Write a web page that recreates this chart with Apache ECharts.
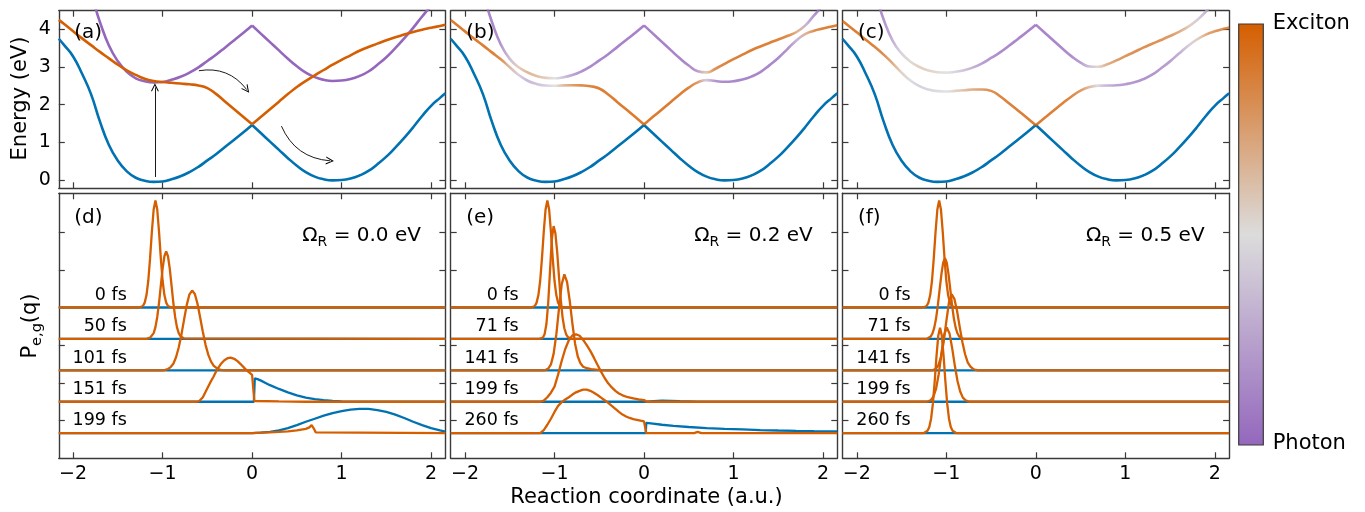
<!DOCTYPE html>
<html><head><meta charset="utf-8">
<script src="https://cdn.jsdelivr.net/npm/echarts@6/dist/echarts.min.js"></script>
<style>html,body{margin:0;padding:0;background:#fff}#c{width:1365px;height:512px}</style>
</head><body><div id="c"></div>
<script>
// ---------------- data ----------------
const xGrid = [-2.16,-2.1,-2.0,-1.9,-1.8,-1.7,-1.6,-1.5,-1.4,-1.3,-1.2,-1.1,-1.0,-0.9,-0.8,-0.7,-0.6,-0.5,-0.4,-0.3,-0.2,-0.1,0,0.1,0.2,0.3,0.4,0.5,0.6,0.7,0.8,0.9,1.0,1.1,1.2,1.3,1.4,1.5,1.6,1.7,1.8,1.9,2.0,2.1,2.16];
const groundE = [3.75,3.58,3.28,2.82,2.28,1.55,0.93,0.51,0.23,0.06,-0.02,-0.05,-0.04,0.02,0.10,0.21,0.35,0.52,0.69,0.88,1.07,1.26,1.46,1.24,1.02,0.80,0.58,0.38,0.21,0.09,0.02,-0.01,0.00,0.04,0.12,0.24,0.42,0.62,0.86,1.12,1.40,1.70,1.97,2.18,2.30];
const photonE = [6.39,6.22,5.92,5.46,4.92,4.19,3.57,3.15,2.87,2.70,2.62,2.59,2.60,2.66,2.74,2.85,2.99,3.16,3.33,3.52,3.71,3.90,4.10,3.88,3.66,3.44,3.22,3.02,2.85,2.73,2.66,2.63,2.64,2.68,2.76,2.88,3.06,3.26,3.50,3.76,4.04,4.34,4.61,4.82,4.94];
const excitonE = [4.25,4.14,3.95,3.76,3.58,3.40,3.23,3.06,2.91,2.79,2.69,2.63,2.60,2.58,2.56,2.54,2.51,2.44,2.28,2.08,1.88,1.68,1.48,1.68,1.88,2.08,2.28,2.47,2.63,2.78,2.92,3.06,3.19,3.31,3.43,3.53,3.62,3.71,3.79,3.86,3.93,3.99,4.04,4.09,4.12];

// Omega_R = 0.2 eV polaritons
const upperB = [6.395,6.225,5.925,5.476,4.927,4.202,3.597,3.215,2.992,2.855,2.761,2.712,2.700,2.728,2.785,2.879,3.010,3.174,3.339,3.527,3.715,3.905,4.104,3.885,3.666,3.447,3.231,3.038,2.889,2.858,2.954,3.082,3.208,3.326,3.445,3.545,3.637,3.731,3.821,3.922,4.099,4.367,4.627,4.833,4.952];
const lowerB = [4.245,4.135,3.945,3.754,3.573,3.388,3.203,2.995,2.788,2.635,2.549,2.508,2.500,2.512,2.515,2.511,2.490,2.430,2.271,2.073,1.875,1.676,1.476,1.676,1.874,2.073,2.270,2.452,2.591,2.652,2.626,2.608,2.622,2.665,2.745,2.865,3.043,3.239,3.469,3.698,3.871,3.964,4.023,4.077,4.108];
const upperBExciton = [0.002,0.002,0.003,0.003,0.006,0.015,0.069,0.295,0.598,0.705,0.665,0.598,0.500,0.314,0.166,0.080,0.038,0.019,0.009,0.005,0.003,0.002,0.001,0.002,0.003,0.005,0.011,0.030,0.130,0.621,0.896,0.953,0.970,0.977,0.979,0.978,0.971,0.957,0.912,0.724,0.259,0.066,0.028,0.018,0.014];
const lowerBExciton = [0.998,0.998,0.997,0.997,0.994,0.985,0.931,0.705,0.402,0.295,0.335,0.402,0.500,0.686,0.834,0.920,0.962,0.981,0.991,0.995,0.997,0.998,0.999,0.998,0.997,0.995,0.989,0.970,0.870,0.379,0.104,0.047,0.030,0.023,0.021,0.022,0.029,0.043,0.088,0.276,0.741,0.934,0.972,0.982,0.986];

// Omega_R = 0.5 eV polaritons
const upperC = [6.419,6.250,5.951,5.506,4.965,4.262,3.702,3.359,3.141,2.999,2.907,2.861,2.850,2.873,2.916,2.989,3.097,3.239,3.387,3.562,3.744,3.928,4.124,3.908,3.694,3.485,3.282,3.117,3.013,3.006,3.072,3.175,3.287,3.397,3.513,3.615,3.715,3.821,3.934,4.065,4.241,4.470,4.704,4.897,5.010];
const lowerC = [4.221,4.110,3.919,3.724,3.535,3.328,3.098,2.851,2.639,2.491,2.403,2.359,2.350,2.367,2.384,2.401,2.403,2.366,2.224,2.038,1.846,1.652,1.456,1.652,1.846,2.036,2.218,2.373,2.467,2.504,2.508,2.515,2.543,2.593,2.677,2.795,2.965,3.149,3.356,3.555,3.729,3.860,3.946,4.013,4.050];
const upperCExciton = [0.013,0.014,0.015,0.020,0.032,0.077,0.219,0.411,0.540,0.589,0.569,0.540,0.500,0.421,0.331,0.237,0.154,0.091,0.049,0.028,0.018,0.012,0.009,0.012,0.019,0.031,0.059,0.130,0.299,0.550,0.731,0.826,0.870,0.892,0.901,0.896,0.873,0.834,0.751,0.598,0.393,0.213,0.124,0.087,0.073];
const lowerCExciton = [0.987,0.986,0.985,0.980,0.968,0.923,0.781,0.589,0.460,0.411,0.431,0.460,0.500,0.579,0.669,0.763,0.846,0.909,0.951,0.972,0.982,0.988,0.991,0.988,0.981,0.969,0.941,0.870,0.701,0.450,0.269,0.174,0.130,0.108,0.099,0.104,0.127,0.166,0.249,0.402,0.607,0.787,0.876,0.913,0.927];

// wavepacket densities [q, P] ; rows are stacked with these offsets
const rowOffsets = [4.0, 3.17, 2.33, 1.5, 0.67];
const timeLabelsD = ['0 fs','50 fs','101 fs','151 fs','199 fs'];
const timeLabelsE = ['0 fs','71 fs','141 fs','199 fs','260 fs'];
const timeLabelsF = ['0 fs','71 fs','141 fs','199 fs','260 fs'];
const flatGround = [[-2.16,0],[2.16,0]];
const packet0 = [[-2.16,0],[-1.26,0],[-1.24,0.01],[-1.22,0.04],[-1.2,0.13],[-1.18,0.33],[-1.16,0.71],[-1.14,1.31],[-1.12,2.01],[-1.1,2.60],[-1.08,2.84],[-1.06,2.60],[-1.04,2.01],[-1.02,1.31],[-1.0,0.71],[-0.98,0.33],[-0.96,0.13],[-0.94,0.04],[-0.92,0.01],[-0.9,0],[2.16,0]];
const excD50 = [[-2.16,0],[-1.18,0],[-1.16,0.01],[-1.14,0.03],[-1.12,0.07],[-1.1,0.15],[-1.08,0.31],[-1.06,0.58],[-1.04,0.95],[-1.02,1.41],[-1.0,1.86],[-0.98,2.19],[-0.96,2.32],[-0.94,2.19],[-0.92,1.86],[-0.9,1.41],[-0.88,0.95],[-0.86,0.58],[-0.84,0.31],[-0.82,0.15],[-0.8,0.07],[-0.78,0.03],[-0.76,0.01],[-0.74,0],[2.16,0]];
const excD101 = [[-2.16,0],[-1.0,0],[-0.97,0.015],[-0.94,0.04],[-0.91,0.09],[-0.88,0.18],[-0.85,0.35],[-0.82,0.61],[-0.79,0.95],[-0.76,1.35],[-0.73,1.74],[-0.7,2.02],[-0.67,2.12],[-0.64,2.03],[-0.61,1.77],[-0.58,1.40],[-0.55,1.02],[-0.52,0.68],[-0.49,0.42],[-0.46,0.24],[-0.43,0.13],[-0.4,0.07],[-0.37,0.03],[-0.34,0.01],[-0.3,0],[2.16,0]];
const excD151 = [[-2.16,0],[-0.62,0],[-0.59,0.02],[-0.55,0.12],[-0.51,0.31],[-0.47,0.50],[-0.43,0.67],[-0.39,0.86],[-0.35,1.00],[-0.31,1.10],[-0.27,1.16],[-0.24,1.17],[-0.2,1.14],[-0.16,1.07],[-0.12,0.98],[-0.08,0.88],[-0.04,0.79],[0.0,0.71],[0.015,0.68],[0.025,0.02],[0.3,0.01],[0.6,0],[2.16,0]];
const grdD151 = [[-2.16,0],[0.02,0],[0.03,0.62],[0.06,0.60],[0.1,0.56],[0.15,0.50],[0.2,0.44],[0.3,0.34],[0.4,0.25],[0.5,0.17],[0.6,0.11],[0.7,0.07],[0.8,0.045],[0.9,0.025],[1.0,0.012],[1.2,0],[2.16,0]];
const excD199 = [[-2.16,0],[0,0],[0.1,0.01],[0.2,0.02],[0.3,0.03],[0.4,0.045],[0.5,0.07],[0.6,0.11],[0.64,0.15],[0.665,0.21],[0.69,0.12],[0.71,0.02],[0.73,0],[2.16,0]];
const grdD199 = [[-2.16,0],[0,0],[0.1,0.01],[0.2,0.03],[0.3,0.07],[0.4,0.13],[0.5,0.21],[0.6,0.30],[0.7,0.38],[0.8,0.46],[0.9,0.53],[1.0,0.58],[1.1,0.62],[1.2,0.64],[1.3,0.64],[1.4,0.61],[1.5,0.56],[1.6,0.49],[1.7,0.40],[1.8,0.30],[1.9,0.21],[2.0,0.13],[2.1,0.07],[2.16,0.04]];
const excE71 = [[-2.16,0],[-1.17,0],[-1.15,0.01],[-1.13,0.03],[-1.11,0.13],[-1.09,0.40],[-1.07,0.97],[-1.05,1.81],[-1.03,2.64],[-1.01,2.99],[-0.99,2.80],[-0.97,2.30],[-0.95,1.65],[-0.93,1.04],[-0.91,0.57],[-0.89,0.28],[-0.87,0.12],[-0.85,0.045],[-0.83,0.015],[-0.81,0],[2.16,0]];
const excE141 = [[-2.16,0],[-1.13,0],[-1.1,0.01],[-1.07,0.05],[-1.04,0.16],[-1.01,0.44],[-0.98,0.95],[-0.95,1.64],[-0.92,2.28],[-0.89,2.55],[-0.86,2.35],[-0.83,1.85],[-0.8,1.24],[-0.77,0.71],[-0.74,0.37],[-0.71,0.19],[-0.68,0.10],[-0.64,0.06],[-0.59,0.035],[-0.49,0.01],[-0.39,0],[2.16,0]];
const excE199 = [[-2.16,0],[-1.16,0],[-1.12,0.03],[-1.08,0.12],[-1.04,0.24],[-1.0,0.40],[-0.96,0.72],[-0.92,1.08],[-0.88,1.40],[-0.84,1.63],[-0.8,1.76],[-0.76,1.79],[-0.72,1.75],[-0.68,1.64],[-0.64,1.50],[-0.6,1.35],[-0.56,1.17],[-0.52,0.98],[-0.48,0.80],[-0.44,0.63],[-0.4,0.49],[-0.36,0.38],[-0.32,0.29],[-0.28,0.22],[-0.24,0.17],[-0.18,0.12],[-0.12,0.09],[-0.06,0.06],[0.0,0.045],[0.02,0.04],[0.03,0],[2.16,0]];
const grdE199 = [[-2.16,0],[0.02,0],[0.03,0.045],[0.2,0.03],[0.4,0.015],[0.6,0.005],[0.8,0],[2.16,0]];
const excE260 = [[-2.16,0],[-1.16,0],[-1.12,0.08],[-1.08,0.22],[-1.04,0.38],[-1.0,0.56],[-0.96,0.72],[-0.92,0.82],[-0.88,0.89],[-0.84,0.95],[-0.8,1.02],[-0.76,1.08],[-0.72,1.12],[-0.68,1.15],[-0.64,1.15],[-0.6,1.12],[-0.56,1.07],[-0.52,1.01],[-0.48,0.94],[-0.44,0.87],[-0.4,0.80],[-0.36,0.72],[-0.32,0.64],[-0.28,0.56],[-0.24,0.49],[-0.2,0.44],[-0.16,0.40],[-0.12,0.37],[-0.08,0.35],[-0.04,0.33],[0.0,0.31],[0.015,0.29],[0.025,0],[0.56,0],[0.6,0.03],[0.64,0],[2.16,0]];
const grdE260 = [[-2.16,0],[0.02,0],[0.025,0.27],[0.1,0.25],[0.2,0.22],[0.33,0.19],[0.5,0.16],[0.7,0.13],[0.9,0.11],[1.1,0.095],[1.3,0.08],[1.5,0.068],[1.7,0.058],[1.9,0.05],[2.16,0.045]];
const excF71 = [[-2.16,0],[-1.215,0],[-1.195,0.02],[-1.175,0.06],[-1.155,0.14],[-1.135,0.29],[-1.115,0.53],[-1.095,0.88],[-1.075,1.30],[-1.055,1.71],[-1.035,2.02],[-1.015,2.14],[-0.995,2.02],[-0.975,1.71],[-0.955,1.30],[-0.935,0.88],[-0.915,0.53],[-0.895,0.29],[-0.875,0.14],[-0.855,0.06],[-0.835,0.02],[-0.815,0],[2.16,0]];
const excF141 = [[-2.16,0],[-1.18,0],[-1.15,0.01],[-1.12,0.04],[-1.09,0.13],[-1.06,0.35],[-1.03,0.75],[-1.0,1.30],[-0.97,1.81],[-0.94,2.02],[-0.91,1.90],[-0.88,1.58],[-0.85,1.15],[-0.82,0.75],[-0.79,0.43],[-0.76,0.21],[-0.73,0.10],[-0.7,0.04],[-0.67,0.013],[-0.64,0],[2.16,0]];
const excF199 = [[-2.16,0],[-1.235,0],[-1.205,0.01],[-1.175,0.04],[-1.145,0.13],[-1.115,0.34],[-1.085,0.73],[-1.055,1.27],[-1.025,1.77],[-0.995,1.97],[-0.965,1.82],[-0.935,1.43],[-0.905,0.96],[-0.875,0.55],[-0.845,0.27],[-0.815,0.11],[-0.785,0.04],[-0.755,0.01],[-0.725,0],[2.16,0]];
const excF260 = [[-2.16,0],[-1.25,0],[-1.23,0.02],[-1.21,0.06],[-1.19,0.16],[-1.17,0.38],[-1.15,0.78],[-1.13,1.36],[-1.11,2.03],[-1.09,2.58],[-1.07,2.79],[-1.05,2.58],[-1.03,2.03],[-1.01,1.36],[-0.99,0.78],[-0.97,0.38],[-0.95,0.16],[-0.93,0.06],[-0.91,0.02],[-0.89,0],[2.16,0]];

const excitedD = [packet0, excD50, excD101, excD151, excD199];
const groundD  = [flatGround, flatGround, flatGround, grdD151, grdD199];
const excitedE = [packet0, excE71, excE141, excE199, excE260];
const groundE2 = [flatGround, flatGround, flatGround, grdE199, grdE260];
const excitedF = [packet0, excF71, excF141, excF199, excF260];
const groundF  = [flatGround, flatGround, flatGround, flatGround, flatGround];

// ticks / labels
const energyTicks = [0,1,2,3,4];
const coordTicks = [-2,-1,0,1,2];
const densityTicks = [1,2,3,4,5,6];
const panelLabels = ['(a)','(b)','(c)','(d)','(e)','(f)'];
const rabiValues = ['0.0','0.2','0.5'];
// annotation arrows in panel (a)
const arrowFrom = [[-1.086,0.08],[-0.595,2.90],[0.328,1.43]];
const arrowTo   = [[-1.086,2.46],[-0.06,2.40],[0.87,0.51]];
const arrowBend = [0, 0.3, -0.3];

// ---------------- styling ----------------
const FONT = 'DejaVu Sans';
const FRAME = '#3a3a3a';
const BLUE = '#0072b2', ORANGE = '#d55e00', PURPLE = '#9467bd', MID = '#dcdcdc';
const COLS = [58.8, 450.7, 842.5], COLW = 386.6;
const ROWS = [{top:10.7, height:177.6}, {top:193.3, height:265}];
const cmapStops = [[0,[148,103,189]],[0.5,[220,220,220]],[1,[213,94,0]]];
function cmap(f, a) {
  const i = f <= 0.5 ? 0 : 1;
  const [f0,c0] = cmapStops[i], [f1,c1] = cmapStops[i+1];
  const t = Math.max(0, Math.min(1, (f - f0)/(f1 - f0)));
  const c = c0.map((v,k)=>Math.round(v + (c1[k]-v)*t));
  return 'rgba(' + c.join(',') + ',' + a + ')';
}
const minus = v => String(v).replace('-', '\u2212');

const grids = [], xAxes = [], yAxes = [];
for (let r = 0; r < 2; r++) for (let c = 0; c < 3; c++) {
  const g = grids.length;
  grids.push({left: COLS[c], top: ROWS[r].top, width: COLW, height: ROWS[r].height, containLabel:false, outerBoundsMode:'none'});
  const axLine = {show:true, onZero:false, lineStyle:{color:FRAME, width:1.4}};
  const tickX = {show:true, inside:true, length:6, customValues: coordTicks, lineStyle:{color:FRAME, width:1.2}};
  xAxes.push({type:'value', gridIndex:g, position:'bottom', min:-2.16, max:2.16, splitLine:{show:false},
    axisLine:axLine, axisTick:tickX,
    axisLabel:{show: r===1, customValues: coordTicks, formatter: minus, fontSize:19, fontFamily:FONT, color:'#000', margin:6}});
  xAxes.push({type:'value', gridIndex:g, position:'top', min:-2.16, max:2.16, splitLine:{show:false},
    axisLine:axLine, axisTick:tickX, axisLabel:{show:false}});
  const yt = r===0 ? energyTicks : densityTicks;
  const yr = r===0 ? {min:-0.22, max:4.494} : {min:0, max:7.03};
  const tickY = {show:true, inside:true, length:6, customValues: yt, lineStyle:{color:FRAME, width:1.2}};
  yAxes.push(Object.assign({type:'value', gridIndex:g, position:'left', splitLine:{show:false},
    axisLine:axLine, axisTick:tickY,
    axisLabel:{show: r===0 && c===0, customValues: yt, fontSize:19, fontFamily:FONT, color:'#000', margin:8}}, yr));
  yAxes.push(Object.assign({type:'value', gridIndex:g, position:'right', splitLine:{show:false},
    axisLine:axLine, axisTick:tickY, axisLabel:{show:false}}, yr));
}

const series = [];
function addCurve(g, ys, solid, frac, alpha) {
  const i0 = xGrid.indexOf(0);
  [[0, i0+1], [i0, xGrid.length]].forEach(([a,b]) => {
    const xs = xGrid.slice(a,b), vs = ys.slice(a,b);
    let color = solid;
    if (frac) {
      const fr = frac.slice(a,b), x0 = xs[0], x1 = xs[xs.length-1];
      color = {type:'linear', x:0, y:0, x2:1, y2:0,
        colorStops: xs.map((x,k)=>({offset:(x-x0)/(x1-x0), color: cmap(fr[k], alpha)}))};
    }
    series.push({type:'line', xAxisIndex:2*g, yAxisIndex:2*g, data: xs.map((x,k)=>[x, vs[k]]),
      showSymbol:false, symbol:'none', smooth:0.5, silent:true, animation:false,
      lineStyle:{width:2.6, color: color}, z:2});
  });
}
addCurve(0, groundE, BLUE);
addCurve(0, photonE, PURPLE);
addCurve(0, excitonE, ORANGE);
addCurve(1, groundE, BLUE);
addCurve(1, upperB, null, upperBExciton, 0.82);
addCurve(1, lowerB, null, lowerBExciton, 0.82);
addCurve(2, groundE, BLUE);
addCurve(2, upperC, null, upperCExciton, 0.82);
addCurve(2, lowerC, null, lowerCExciton, 0.82);

series.push({type:'lines', coordinateSystem:'cartesian2d', xAxisIndex:0, yAxisIndex:0, silent:true, animation:false, z:5,
  symbol:['none','path://M0,10 L5,0 L10,10 L8.6,10 L5,2.8 L1.4,10 Z'], symbolSize:[0,8],
  lineStyle:{color:'#000', width:0.9, opacity:1},
  data: arrowFrom.map((f,k)=>({coords:[f, arrowTo[k]], lineStyle:{curveness: arrowBend[k]}}))});

function addDensity(g, grounds, exciteds) {
  grounds.forEach((pts,k)=>series.push({type:'line', xAxisIndex:2*g, yAxisIndex:2*g, showSymbol:false, symbol:'none',
    silent:true, animation:false, z:2, lineStyle:{width:2.3, color:BLUE},
    data: pts.map(([x,h])=>[x, h + rowOffsets[k]])}));
  exciteds.forEach((pts,k)=>series.push({type:'line', xAxisIndex:2*g, yAxisIndex:2*g, showSymbol:false, symbol:'none',
    silent:true, animation:false, z:3, lineStyle:{width:2.3, color:ORANGE},
    data: pts.map(([x,h])=>[x, h + rowOffsets[k]])}));
}
addDensity(3, groundD, excitedD);
addDensity(4, groundE2, excitedE);
addDensity(5, groundF, excitedF);

const chart = echarts.init(document.getElementById('c'), null, {renderer:'canvas'});
chart.setOption({backgroundColor:'#fff', animation:false, grid:grids, xAxis:xAxes, yAxis:yAxes, series:series});

// ---------------- text & colorbar ----------------
const gfx = [];
const txt = (x,y,text,size,align,extra) => Object.assign({type:'text', x:x, y:y, z:100, silent:true,
  style:{text:text, fontSize:size, fontFamily:FONT, fill:'#000', align:align||'left', verticalAlign:'middle'}}, extra||{});
for (let c = 0; c < 3; c++) {
  gfx.push(txt(COLS[c]+15.5, 32.5, panelLabels[c], 20));
  gfx.push(txt(COLS[c]+15.5, 217.3, panelLabels[c+3], 20));
  gfx.push({type:'text', x: COLS[c]+COLW-24.5, y: 235.5, z:100, silent:true,
    style:{text:'{o|\u03A9}{s|R}{o| = ' + rabiValues[c] + ' eV}', align:'right', verticalAlign:'middle', fill:'#000',
      rich:{o:{fontSize:20, fontFamily:FONT, lineHeight:28, verticalAlign:'middle', fill:'#000'},
            s:{fontSize:14, fontFamily:FONT, lineHeight:14, verticalAlign:'bottom', fill:'#000'}}}});
  const labels = [timeLabelsD, timeLabelsE, timeLabelsF][c];
  labels.forEach((t,k)=>{
    const py = chart.convertToPixel({yAxisIndex: 2*(c+3)}, rowOffsets[k]);
    gfx.push(txt(COLS[c]+68, py - 12.5, t, 17.5, 'right'));
  });
}
gfx.push(txt(20.5, 98.5, 'Energy (eV)', 21, 'center', {rotation: Math.PI/2}));
gfx.push({type:'text', x:30.5, y:326, rotation: Math.PI/2, z:100, silent:true,
  style:{text:'{m|P}{s|e,g}{m|(q)}', align:'center', verticalAlign:'middle', fill:'#000',
    rich:{m:{fontSize:21, fontFamily:FONT, lineHeight:29, verticalAlign:'middle', fill:'#000'},
          s:{fontSize:14.5, fontFamily:FONT, lineHeight:14.5, verticalAlign:'bottom', fill:'#000'}}}});
gfx.push(txt(646.5, 498, 'Reaction coordinate (a.u.)', 21, 'center'));
gfx.push({type:'rect', z:100, silent:true, shape:{x:1238.7, y:24, width:24.6, height:421},
  style:{fill: new echarts.graphic.LinearGradient(0,0,0,1,[{offset:0,color:ORANGE},{offset:0.5,color:MID},{offset:1,color:PURPLE}]),
    stroke:FRAME, lineWidth:1.2}});
gfx.push(txt(1272.7, 24, 'Exciton', 21));
gfx.push(txt(1272.7, 444, 'Photon', 21));
chart.setOption({graphic: gfx});
</script></body></html>
